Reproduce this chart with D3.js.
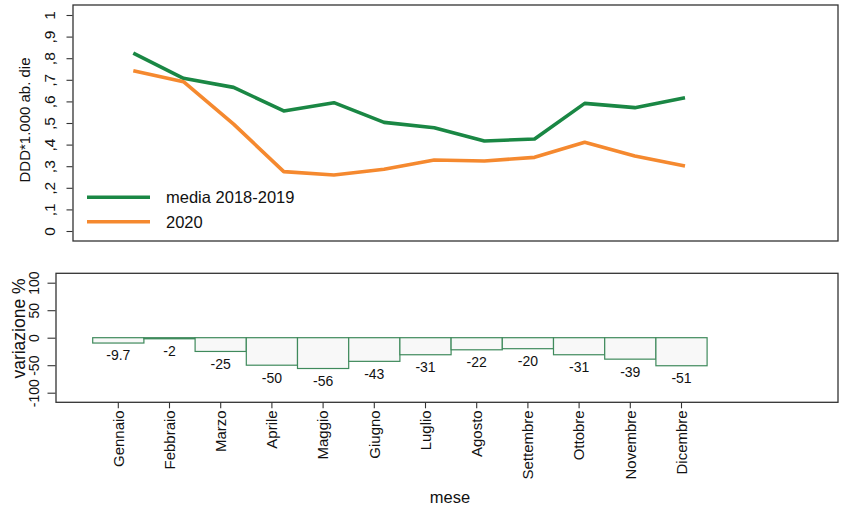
<!DOCTYPE html>
<html>
<head>
<meta charset="utf-8">
<script src="https://cdn.jsdelivr.net/npm/d3@7"></script>
<style>
  html, body { margin: 0; padding: 0; background: #fff; }
  svg { display: block; font-family: "Liberation Sans", Arial, Helvetica, sans-serif; }
</style>
</head>
<body>
<svg id="chart" width="841" height="508"></svg>
<script>
// Months of the year
const months = ["Gennaio", "Febbraio", "Marzo", "Aprile", "Maggio", "Giugno",
                "Luglio", "Agosto", "Settembre", "Ottobre", "Novembre", "Dicembre"];

// DDD per 1,000 inhabitants per day
const media2018_2019 = [0.823, 0.707, 0.665, 0.556, 0.594, 0.503, 0.478, 0.417, 0.426, 0.591, 0.571, 0.617];
const anno2020       = [0.742, 0.691, 0.495, 0.275, 0.259, 0.286, 0.329, 0.324, 0.341, 0.411, 0.347, 0.301];

// Percentage change, 2020 vs 2018-2019 average
const variazione = [-9.7, -2, -25, -50, -56, -43, -31, -22, -20, -31, -39, -51];
const variazioneLabels = ["-9.7", "-2", "-25", "-50", "-56", "-43", "-31", "-22", "-20", "-31", "-39", "-51"];

// Axis tick values and labels
const topTicks = [0, 0.1, 0.2, 0.3, 0.4, 0.5, 0.6, 0.7, 0.8, 0.9, 1];
const topTickLabels = ["0", ",1", ",2", ",3", ",4", ",5", ",6", ",7", ",8", ",9", "1"];
const bottomTicks = [-100, -50, 0, 50, 100];
const bottomTickLabels = ["-100", "-50", "0", "50", "100"];

const seriesNames = ["media 2018-2019", "2020"];
const seriesColors = ["#1a8744", "#f5892f"];

const svg = d3.select("#chart");
const frameColor = "#333";
const textColor = "#111";

// ---------- Upper panel: monthly lines ----------
const upper = { x0: 73, x1: 838, y0: 5, y1: 241 };
const yTop = d3.scaleLinear().domain([0, 1]).range([231, 15]);
const xTop = d3.scalePoint().domain(months).range([133.3, 685]);

svg.append("rect")
  .attr("x", upper.x0).attr("y", upper.y0)
  .attr("width", upper.x1 - upper.x0).attr("height", upper.y1 - upper.y0)
  .attr("fill", "none").attr("stroke", frameColor).attr("stroke-width", 1.3);

const yAxisTop = d3.axisLeft(yTop)
  .tickValues(topTicks)
  .tickSize(6)
  .tickFormat((d, i) => topTickLabels[i]);

const gTopAxis = svg.append("g")
  .attr("transform", `translate(${upper.x0 - 0.5},0)`)
  .call(yAxisTop);
gTopAxis.select(".domain").remove();
gTopAxis.selectAll(".tick line").attr("stroke", frameColor).attr("stroke-width", 1.1);
gTopAxis.selectAll(".tick text")
  .attr("x", 0).attr("y", 0)
  .attr("transform", `translate(${50 - upper.x0},0) rotate(-90)`)
  .attr("text-anchor", "middle")
  .attr("dy", "0.35em")
  .attr("fill", textColor)
  .style("font-size", "15.5px");

svg.append("text")
  .attr("transform", "translate(25,120) rotate(-90)")
  .attr("text-anchor", "middle")
  .attr("dy", "0.35em")
  .attr("fill", textColor)
  .style("font-size", "15px")
  .text("DDD*1.000 ab. die");

const line = d3.line()
  .x((d, i) => xTop(months[i]))
  .y(d => yTop(d));

[media2018_2019, anno2020].forEach((series, k) => {
  svg.append("path")
    .datum(series)
    .attr("d", line)
    .attr("fill", "none")
    .attr("stroke", seriesColors[k])
    .attr("stroke-width", 3.6)
    .attr("stroke-linejoin", "round")
    .attr("stroke-linecap", "butt");
});

// Legend
const legendY = [197.3, 221.7];
seriesNames.forEach((name, k) => {
  svg.append("line")
    .attr("x1", 87).attr("x2", 150)
    .attr("y1", legendY[k]).attr("y2", legendY[k])
    .attr("stroke", seriesColors[k]).attr("stroke-width", 3.6);
  svg.append("text")
    .attr("x", 166).attr("y", legendY[k])
    .attr("dy", "0.36em")
    .attr("fill", textColor)
    .style("font-size", "16.5px")
    .text(name);
});

// ---------- Lower panel: percentage change bars ----------
const lower = { x0: 56, x1: 838, y0: 273.3, y1: 402.3 };
const yBot = d3.scaleLinear().domain([-100, 100]).range([392.7, 282.7]);
const xBot = d3.scaleBand().domain(months).range([92.7, 707.1]).padding(0);

svg.append("rect")
  .attr("x", lower.x0).attr("y", lower.y0)
  .attr("width", lower.x1 - lower.x0).attr("height", lower.y1 - lower.y0)
  .attr("fill", "none").attr("stroke", frameColor).attr("stroke-width", 1.3);

const gBotY = svg.append("g")
  .attr("transform", `translate(${lower.x0 - 0.5},0)`)
  .call(d3.axisLeft(yBot).tickValues(bottomTicks).tickSize(8)
    .tickFormat((d, i) => bottomTickLabels[i]));
gBotY.select(".domain").remove();
gBotY.selectAll(".tick line").attr("stroke", frameColor).attr("stroke-width", 1.1);
gBotY.selectAll(".tick text")
  .attr("x", 0).attr("y", 0)
  .attr("transform", `translate(${35 - lower.x0},0) rotate(-90)`)
  .attr("text-anchor", "middle")
  .attr("dy", "0.35em")
  .attr("fill", textColor)
  .style("font-size", "14px");

svg.append("text")
  .attr("transform", "translate(19,328.5) rotate(-90)")
  .attr("text-anchor", "middle")
  .attr("dy", "0.35em")
  .attr("fill", textColor)
  .style("font-size", "17.5px")
  .text("variazione %");

// Bars
svg.append("g").selectAll("rect")
  .data(variazione)
  .join("rect")
  .attr("x", (d, i) => xBot(months[i]))
  .attr("width", xBot.bandwidth())
  .attr("y", d => yBot(Math.max(0, d)))
  .attr("height", d => Math.abs(yBot(d) - yBot(0)))
  .attr("fill", "#f8f8f8")
  .attr("stroke", "#3f8a5c")
  .attr("stroke-width", 1.2);

// Value labels under each bar
svg.append("g").selectAll("text")
  .data(variazione)
  .join("text")
  .attr("x", (d, i) => xBot(months[i]) + xBot.bandwidth() / 2)
  .attr("y", d => yBot(Math.min(0, d)) + 12.5)
  .attr("dy", "0.35em")
  .attr("text-anchor", "middle")
  .attr("fill", textColor)
  .style("font-size", "14px")
  .text((d, i) => variazioneLabels[i]);

// Month axis
const gBotX = svg.append("g")
  .attr("transform", `translate(0,${lower.y1})`)
  .call(d3.axisBottom(xBot).tickSize(6).tickSizeOuter(0));
gBotX.select(".domain").remove();
gBotX.selectAll(".tick line").attr("stroke", frameColor).attr("stroke-width", 1.1);
gBotX.selectAll(".tick text")
  .attr("x", 0).attr("y", 0)
  .attr("transform", "translate(0,8) rotate(-90)")
  .attr("text-anchor", "end")
  .attr("dy", "0.35em")
  .attr("fill", textColor)
  .style("font-size", "15px");

svg.append("text")
  .attr("x", 450).attr("y", 497)
  .attr("dy", "0.35em")
  .attr("text-anchor", "middle")
  .attr("fill", textColor)
  .style("font-size", "16.5px")
  .text("mese");
</script>
</body>
</html>
